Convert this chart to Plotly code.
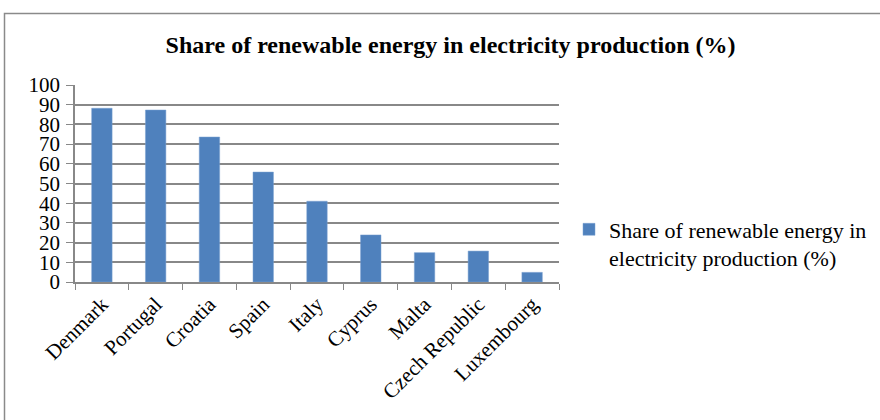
import plotly.graph_objects as go

countries = ["Denmark", "Portugal", "Croatia", "Spain", "Italy", "Cyprus", "Malta", "Czech Republic", "Luxembourg"]
shares = [88.2, 87.3, 73.6, 55.8, 41.0, 23.9, 14.9, 15.7, 4.9]
series_name = "Share of renewable energy in<br>electricity production (%)"
title_text = "Share of renewable energy in electricity production (%)"
y_ticks = [0, 10, 20, 30, 40, 50, 60, 70, 80, 90, 100]

FONT = "Liberation Serif, Times New Roman, serif"
GRID = "#888888"

fig = go.Figure()
fig.add_trace(go.Bar(
    x=countries, y=shares, name=series_name,
    marker=dict(color="#4F81BD", line=dict(color="#7ba0d0", width=0.5)),
    showlegend=True,
))

L, R, T, B = 75, 321, 85, 138
pw, ph = 880 - L - R, 420 - T - B

def px_to_paper_x(px):
    return (px - L) / pw

def px_to_paper_y(py):
    return (420 - B - py) / ph

fig.update_layout(
    width=880, height=420,
    margin=dict(l=L, r=R, t=T, b=B, autoexpand=False),
    paper_bgcolor="white", plot_bgcolor="white",
    font=dict(family=FONT, color="black", size=22),
    title=dict(text="<b>" + title_text + "</b>", x=0.512, xanchor="center",
               y=1 - 45 / 420, yanchor="middle",
               font=dict(family=FONT, size=24, color="black")),
    bargap=0.62,
    showlegend=True,
    legend=dict(x=px_to_paper_x(569), xanchor="left", y=px_to_paper_y(244), yanchor="middle",
                font=dict(family=FONT, size=22, color="black"), valign="top",
                bgcolor="rgba(0,0,0,0)", itemwidth=30),
    xaxis=dict(tickangle=-45, showline=True, linecolor=GRID, linewidth=1.5,
               ticks="outside", ticklen=6, tickcolor=GRID, tickson="boundaries",
               tickfont=dict(family=FONT, size=21), showgrid=False),
    yaxis=dict(range=[0, 100], tickvals=y_ticks, showgrid=True, gridcolor=GRID, gridwidth=1.5,
               showline=True, linecolor=GRID, linewidth=1.5,
               ticks="outside", ticklen=7, tickcolor=GRID,
               tickfont=dict(family=FONT, size=21), zeroline=False, ticklabelstandoff=2),
    shapes=[dict(type="rect", xref="paper", yref="paper",
                 x0=px_to_paper_x(4.5), x1=px_to_paper_x(890),
                 y0=px_to_paper_y(430), y1=px_to_paper_y(13.5),
                 line=dict(color="#8a8a8a", width=1.5), layer="below")],
)

fig.write_html("out.html")
